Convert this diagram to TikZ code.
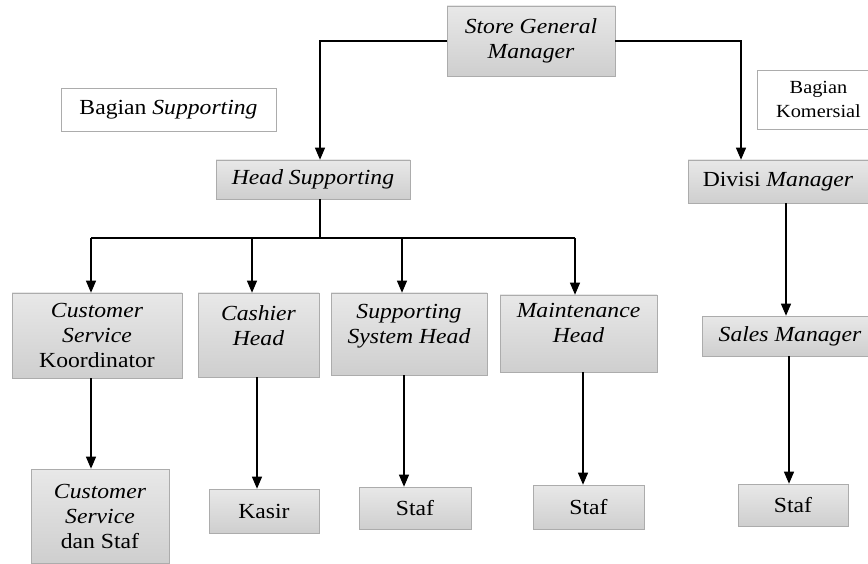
\documentclass[tikz,border=0pt]{standalone}
\usepackage{fontspec}
\setmainfont{Liberation Serif}[FakeStretch=1.1]
\usetikzlibrary{arrows.meta}
\tikzset{
  box/.style={draw=gray!65, line width=0.6pt, top color=gray!18, bottom color=gray!38,
    inner sep=0pt, align=center, font=\fontsize{21.5}{25}\selectfont},
  plainbox/.style={draw=gray!65, line width=0.6pt, fill=white, inner sep=0pt, align=center,
    font=\fontsize{21.5}{25}\selectfont},
  conn/.style={line width=1.2pt, draw=black},
  arr/.style={conn, -{Triangle[width=10pt,length=12pt]}}
}
\begin{document}
\begin{tikzpicture}[x=1pt,y=-1pt]
\useasboundingbox (0,0) rectangle (868,564);
% top
\node[box, minimum width=168, minimum height=70] (sgm) at (531,41) {\textit{Store General}\\\textit{Manager}};
\node[plainbox, minimum width=215, minimum height=43] (bs) at (168.5,109.5) {Bagian \textit{Supporting}};
\node[plainbox, minimum width=123, minimum height=59, font=\fontsize{18.5}{24}\selectfont] (bk) at (818.5,99.5) {Bagian\\Komersial};
% second level
\node[box, minimum width=194, minimum height=39] (hs) at (313,179.5) {\textit{Head Supporting}};
\node[box, minimum width=180, minimum height=43] (dm) at (778,181.5) {Divisi \textit{Manager}};
% third level
\node[box, minimum width=170, minimum height=85] (csk) at (97,335.5) {\textit{Customer}\\\textit{Service}\\Koordinator};
\node[box, minimum width=121, minimum height=84] (ch) at (258.5,335) {\textit{Cashier}\\\textit{Head}\\[-13pt]\strut};
\node[box, minimum width=156, minimum height=82] (ssh) at (409,334) {\textit{Supporting}\\\textit{System Head}\\[-13pt]\strut};
\node[box, minimum width=157, minimum height=77] (mh) at (578.5,333.5) {\textit{Maintenance}\\\textit{Head}\\[-12pt]\strut};
\node[box, minimum width=176, minimum height=40] (sm) at (790,336) {\textit{Sales Manager}};
% bottom
\node[box, minimum width=138, minimum height=94] (csd) at (100,516) {\textit{Customer}\\\textit{Service}\\dan Staf};
\node[box, minimum width=110, minimum height=44] (kas) at (264,511) {Kasir};
\node[box, minimum width=112, minimum height=42] (st1) at (415,508) {Staf};
\node[box, minimum width=111, minimum height=44] (st2) at (588.5,507) {Staf};
\node[box, minimum width=110, minimum height=42] (st3) at (793,505) {Staf};
% connectors
\draw[arr] (sgm.west) -| (hs.north -| 320,0);
\draw[arr] (sgm.east) -| (dm.north -| 741,0);
\coordinate (j) at (320,238);
\coordinate (jl) at (91,238);
\coordinate (jr) at (575,238);
\draw[conn] (hs.south -| j) -- (j);
\draw[conn] (jl) -- (jr);
\draw[arr] (jl) -- (csk.north -| jl);
\draw[arr] (j -| 252,0) -- (ch.north -| 252,0);
\draw[arr] (j -| 402,0) -- (ssh.north -| 402,0);
\draw[arr] (jr) -- (mh.north -| jr);
\draw[arr] (csk.south -| 91,0) -- (csd.north -| 91,0);
\draw[arr] (ch.south -| 257,0) -- (kas.north -| 257,0);
\draw[arr] (ssh.south -| 404,0) -- (st1.north -| 404,0);
\draw[arr] (mh.south -| 583,0) -- (st2.north -| 583,0);
\draw[arr] (dm.south -| 786,0) -- (sm.north -| 786,0);
\draw[arr] (sm.south -| 789,0) -- (st3.north -| 789,0);
\end{tikzpicture}
\end{document}
